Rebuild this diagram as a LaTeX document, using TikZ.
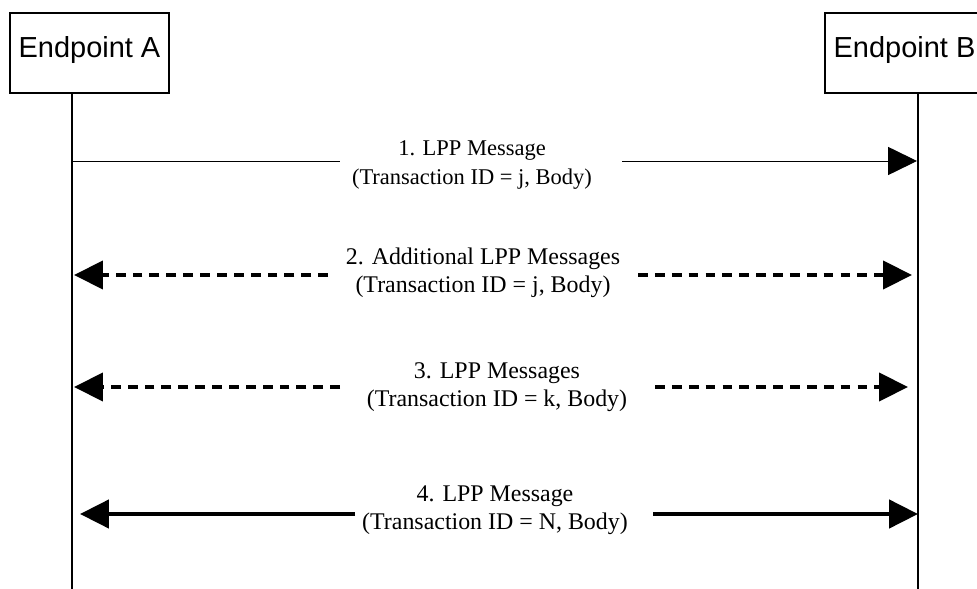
\documentclass[tikz,border=0pt]{standalone}
\usepackage{fontspec}
\setmainfont{Liberation Serif}
\newfontfamily\boxfont{Liberation Sans}
\usetikzlibrary{arrows.meta}
\usetikzlibrary{positioning}

\begin{document}
\begin{tikzpicture}[x=0.025cm,y=-0.025cm,
    entity/.style={draw,line width=0.8pt,inner sep=0pt,minimum width=159*0.025cm,
      minimum height=80*0.025cm,text height=15pt,text depth=9.3pt,
      font=\boxfont\fontsize{20.6}{24}\selectfont},
    msgtext/.style={align=center,inner sep=0pt,font=\fontsize{17}{20}\selectfont},
    tip/.style={-{Triangle[length=20.6pt,width=20pt]}},
    plain/.style={line width=0.7pt},
    dashmsg/.style={line width=2.5pt,dash pattern=on 7pt off 5pt},
    boldmsg/.style={line width=3pt}]
        \useasboundingbox (0,0) rectangle (977,589);
        \clip (0,0) rectangle (977,589);
        \node[entity] (A) at (89.5,53) {Endpoint A};
        \node[entity] (B) at (904.5,53) {Endpoint B};
        \coordinate (la) at (72,93);
        \coordinate (lb) at (918,93);
        \draw[line width=1pt] (la) -- (72,589) coordinate (la end);
        \draw[line width=1pt] (lb) -- (918,589) coordinate (lb end);
        \node[msgtext,font=\fontsize{16}{20}\selectfont] (m1) at (472,165)
          {1. LPP Message\\(Transaction ID = j, Body)};
        \coordinate (a1) at (72,161);
        \coordinate (g1l) at (340,161);
        \coordinate (g1r) at (622,161);
        \coordinate (b1) at (917,161);
        \draw[plain] (a1) -- (g1l);
        \draw[plain,tip] (g1r) -- (b1);
        \node[msgtext] (m2) at (483,273)
          {2. Additional LPP Messages\\(Transaction ID = j, Body)};
        \coordinate (a2) at (74,275);
        \coordinate (g2l) at (328,275);
        \coordinate (g2r) at (638,275);
        \coordinate (b2) at (912,275);
        \draw[dashmsg,tip] (g2l) -- (a2);
        \draw[dashmsg,tip] (g2r) -- (b2);
        \node[msgtext] (m3) at (497,387)
          {3. LPP Messages\\(Transaction ID = k, Body)};
        \coordinate (a3) at (74,387);
        \coordinate (g3l) at (340,387);
        \coordinate (g3r) at (655,387);
        \coordinate (b3) at (908,387);
        \draw[dashmsg,tip] (g3l) -- (a3);
        \draw[dashmsg,tip] (g3r) -- (b3);
        \node[msgtext] (m4) at (495,510)
          {4. LPP Message\\(Transaction ID = N, Body)};
        \coordinate (a4) at (80,514);
        \coordinate (g4l) at (355,514);
        \coordinate (g4r) at (653,514);
        \coordinate (b4) at (918,514);
        \draw[boldmsg,tip] (g4l) -- (a4);
        \draw[boldmsg,tip] (g4r) -- (b4);
      \end{tikzpicture}
\end{document}
